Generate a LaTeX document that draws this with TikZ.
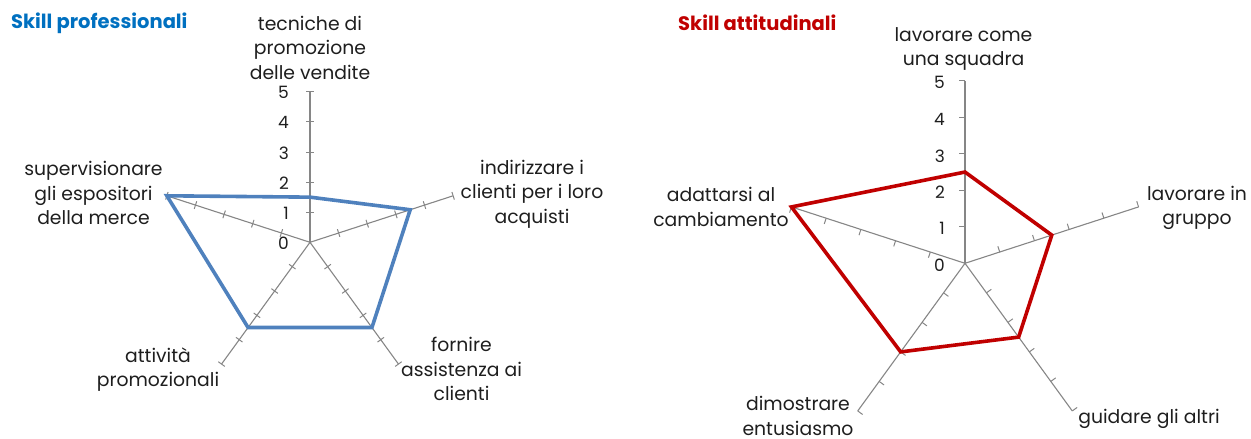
\documentclass[tikz,border=0pt]{standalone}
\usepackage{fontspec}
\setmainfont{Poppins}
\usetikzlibrary{calc}
\definecolor{axisgray}{RGB}{134,134,134}
\definecolor{serieblue}{RGB}{79,129,189}
\definecolor{seriered}{RGB}{192,0,0}
\definecolor{titleblue}{RGB}{0,112,192}
\definecolor{txt}{RGB}{30,30,30}
\begin{document}
\begin{tikzpicture}[x=1pt,y=1pt,
  axisline/.style={draw=axisgray, line width=1.1pt},
  tickmark/.style={draw=axisgray, line width=1pt},
  lbl/.style={font=\fontsize{18.8}{24.5}\selectfont, align=center, inner sep=0, text=txt},
  num/.style={font=\fontsize{17}{18}\selectfont, anchor=east, inner sep=0, text=txt},
  ttl/.style={font=\fontsize{19.5}{20}\selectfont\bfseries, inner sep=0, anchor=west},
  serie/.style={line width=3.6pt, line join=miter}]
\useasboundingbox (0,-439) rectangle (1251,0);

% ---------- left chart ----------
\node[ttl, text=titleblue] (t1) at (11,-23) {Skill professionali};
\coordinate (L) at (310,-242.3);
\foreach \a [count=\i] in {90,18,-54,-126,162} {
  \coordinate (La\i) at ($(L)+(\a:150.5)$);
  \draw[axisline] (L) -- (La\i);
  \foreach \k in {1,...,5}
    \draw[tickmark] ($(L)+(\a:\k*30.1)+(\a+90:4)$) -- ($(L)+(\a:\k*30.1)+(\a-90:4)$);
}
\foreach \k in {0,...,5}
  \node[num] (Ln\k) at ($(L)+(-21,\k*30.1-1)$) {\k};
\coordinate (Lp1) at ($(L)+(90:1.5*30.1)$);
\coordinate (Lp2) at ($(L)+(18:3.5*30.1)$);
\coordinate (Lp3) at ($(L)+(-54:3.5*30.1)$);
\coordinate (Lp4) at ($(L)+(-126:3.5*30.1)$);
\coordinate (Lp5) at ($(L)+(162:5*30.1)$);
\draw[serie, serieblue] (Lp1) -- (Lp2) -- (Lp3) -- (Lp4) -- (Lp5) -- cycle;
\node[lbl] (Ll1) at (310,-47.5) {tecniche di\\promozione\\delle vendite};
\node[lbl] (Ll2) at (532,-194) {indirizzare i\\clienti per i loro\\acquisti};
\node[lbl] (Ll3) at (461.5,-369) {fornire\\assistenza ai\\clienti};
\node[lbl] (Ll4) at (158,-369.5) {attività\\promozionali};
\node[lbl] (Ll5) at (93.5,-193) {supervisionare\\gli espositori\\della merce};

% ---------- right chart ----------
\node[ttl, text=seriered] (t2) at (678,-23) {Skill attitudinali};
\coordinate (R) at (965,-263.3);
\foreach \a [count=\i] in {90,18,-54,-126,162} {
  \coordinate (Ra\i) at ($(R)+(\a:182.5)$);
  \draw[axisline] (R) -- (Ra\i);
  \foreach \k in {1,...,5}
    \draw[tickmark] ($(R)+(\a:\k*36.5)$) -- ($(R)+(\a:\k*36.5)+(\a+90:6)$);
}
\foreach \k in {0,...,5}
  \node[num] (Rn\k) at ($(R)+(-20,\k*36.5-2)$) {\k};
\coordinate (Rp1) at ($(R)+(90:2.5*36.5)$);
\coordinate (Rp2) at ($(R)+(18:2.5*36.5)$);
\coordinate (Rp3) at ($(R)+(-54:2.5*36.5)$);
\coordinate (Rp4) at ($(R)+(-126:3*36.5)$);
\coordinate (Rp5) at ($(R)+(162:5*36.5)$);
\draw[serie, seriered] (Rp1) -- (Rp2) -- (Rp3) -- (Rp4) -- (Rp5) -- cycle;
\node[lbl] (Rl1) at (963.5,-49) {lavorare come\\una squadra};
\node[lbl] (Rl2) at (1197,-208) {lavorare in\\gruppo};
\node[lbl] (Rl3) at (1149,-419) {guidare gli altri};
\node[lbl] (Rl4) at (798,-416) {dimostrare\\entusiasmo};
\node[lbl] (Rl5) at (721,-207) {adattarsi al\\cambiamento};
\end{tikzpicture}
\end{document}
